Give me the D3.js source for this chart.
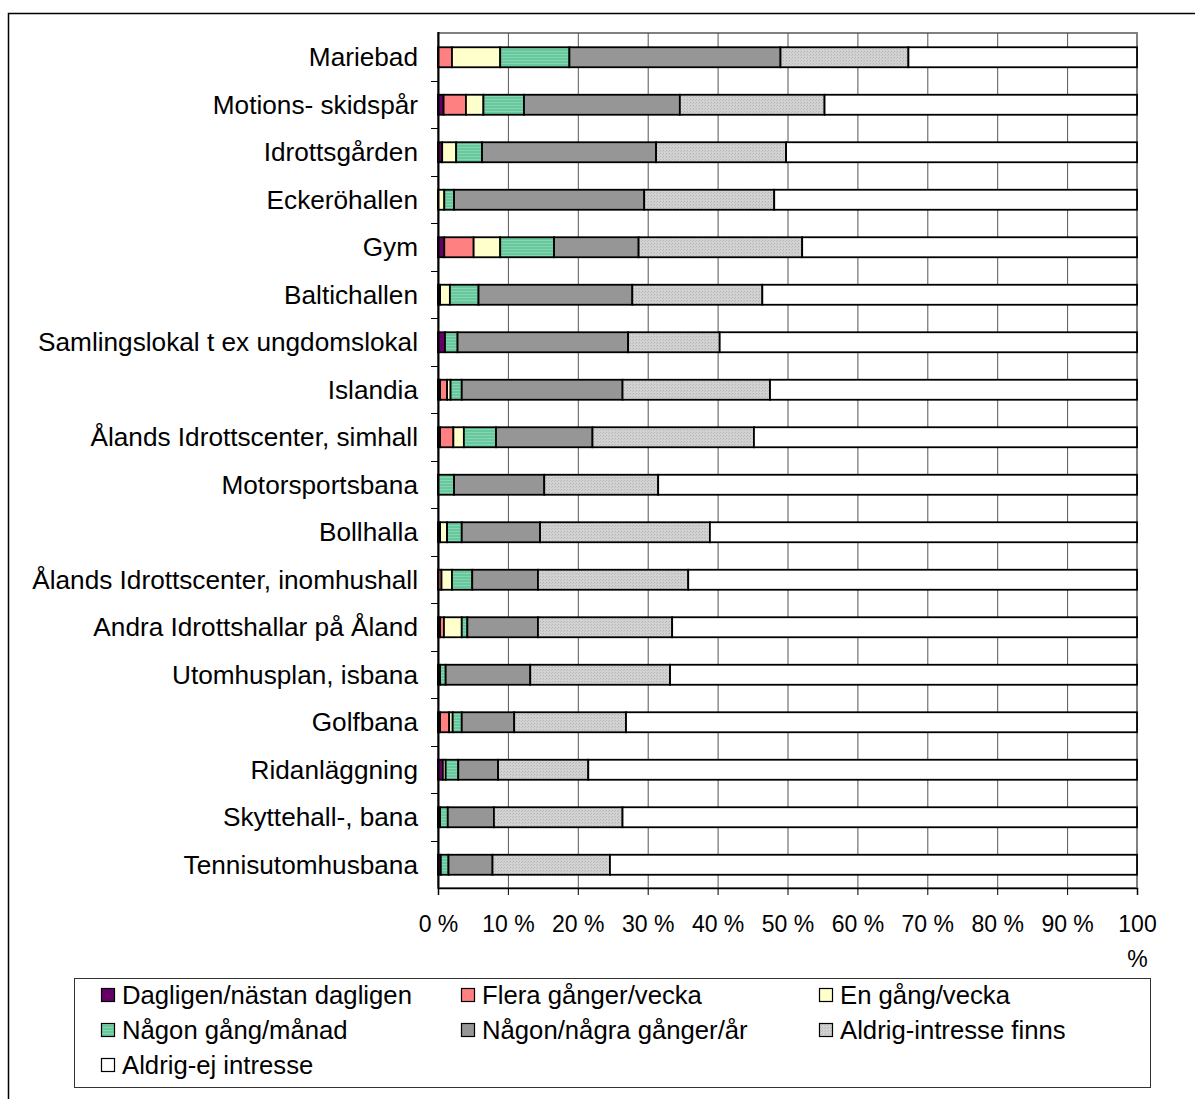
<!DOCTYPE html>
<html>
<head>
<meta charset="utf-8">
<script src="https://cdn.jsdelivr.net/npm/d3@7"></script>
<style>
  body { margin: 0; background: #fff; }
  svg { display: block; }
  text { font-family: "Liberation Sans", Arial, sans-serif; fill: #000; }
</style>
</head>
<body>
<div id="chart"></div>
<script>
// categories, top to bottom
var categories = ["Mariebad", "Motions- skidspår", "Idrottsgården", "Eckeröhallen", "Gym", "Baltichallen",
  "Samlingslokal t ex ungdomslokal", "Islandia", "Ålands Idrottscenter, simhall", "Motorsportsbana", "Bollhalla",
  "Ålands Idrottscenter, inomhushall", "Andra Idrottshallar på Åland", "Utomhusplan, isbana", "Golfbana",
  "Ridanläggning", "Skyttehall-, bana", "Tennisutomhusbana"];

// percentages
var dagligen      = [0,   0.8, 0.6, 0,   0.9, 0.3, 1.0, 0.3, 0.3, 0,    0.3, 0,    0.3,  0.3,  0.3, 0.7, 0.3, 0.4];
var fleraVecka    = [2.0, 3.2, 0,   0,   4.2, 0,   0,   1.0, 1.9, 0,    0,   0.5,  0.55, 0,    1.3, 0,   0,   0];
var enVecka       = [6.9, 2.5, 2.0, 0.9, 3.8, 1.4, 0,   0.5, 1.5, 0,    1.0, 1.5,  2.55, 0,    0.5, 0.4, 0,   0];
var nagonManad    = [9.9, 5.8, 3.7, 1.4, 7.7, 4.1, 1.8, 1.6, 4.6, 2.3,  2.1, 2.9,  0.8,  0.8,  1.3, 1.8, 1.1, 1.1];
var nagonAr       = [30.2, 22.3, 24.9, 27.2, 12.1, 22.0, 24.4, 23.0, 13.8, 12.9, 11.2, 9.4, 10.1, 12.1, 7.5, 5.7, 6.6, 6.3];
var aldrigFinns   = [18.3, 20.7, 18.6, 18.6, 23.4, 18.6, 13.1, 21.1, 23.1, 16.3, 24.3, 21.5, 19.2, 20.0, 16.0, 12.9, 18.4, 16.8];
var aldrigEj      = [32.7, 44.7, 50.2, 51.9, 47.9, 53.6, 59.7, 52.5, 54.8, 68.5, 61.1, 64.2, 66.5, 66.8, 73.1, 78.5, 73.6, 75.4];

var seriesNames = ["Dagligen/nästan dagligen", "Flera gånger/vecka", "En gång/vecka", "Någon gång/månad",
  "Någon/några gånger/år", "Aldrig-intresse finns", "Aldrig-ej intresse"];
var xTicks = [0, 10, 20, 30, 40, 50, 60, 70, 80, 90, 100];

var seriesValues = [dagligen, fleraVecka, enVecka, nagonManad, nagonAr, aldrigFinns, aldrigEj];
var seriesFills = ["#660066", "#ff8080", "#ffffcc", "url(#stripeGreen)", "#969696", "url(#dotGray)", "#ffffff"];

var width = 1195, height = 1099;
var plot = {left: 438, right: 1137, top: 33, bottom: 888};

var svg = d3.select("#chart").append("svg")
  .attr("width", width)
  .attr("height", height);

// patterns for the green and light grey fills
var defs = svg.append("defs");
var pg = defs.append("pattern").attr("id", "stripeGreen")
  .attr("patternUnits", "userSpaceOnUse").attr("width", 4).attr("height", 3);
pg.append("rect").attr("width", 4).attr("height", 3).attr("fill", "#66c89c");
pg.append("rect").attr("width", 4).attr("height", 1).attr("fill", "#86d6b1");

var pd = defs.append("pattern").attr("id", "dotGray")
  .attr("patternUnits", "userSpaceOnUse").attr("width", 3).attr("height", 3);
pd.append("rect").attr("width", 3).attr("height", 3).attr("fill", "#d2d2d2");
pd.append("rect").attr("x", 0).attr("y", 0).attr("width", 1).attr("height", 1).attr("fill", "#b4b4b4");
pd.append("rect").attr("x", 2).attr("y", 1).attr("width", 1).attr("height", 1).attr("fill", "#bdbdbd");

// outer chart frame (only left and top visible)
svg.append("path")
  .attr("d", "M8.5," + (height + 5) + "V13.5H" + (width + 5))
  .attr("fill", "none").attr("stroke", "#000").attr("stroke-width", 1.5);

// table for stacking
var table = categories.map(function(c, i) {
  var row = {cat: c};
  seriesNames.forEach(function(s, j) { row[s] = seriesValues[j][i]; });
  return row;
});
var stacked = d3.stack().keys(seriesNames)(table);

var x = d3.scaleLinear().domain([0, 100]).range([plot.left, plot.right]);
var y = d3.scaleBand().domain(categories).range([plot.top, plot.bottom]).padding(0);
var barH = 20;

// plot area border + grid
svg.append("rect")
  .attr("x", plot.left).attr("y", plot.top)
  .attr("width", plot.right - plot.left).attr("height", plot.bottom - plot.top)
  .attr("fill", "#fff").attr("stroke", "#808080").attr("stroke-width", 2);

svg.append("g")
  .selectAll("line")
  .data(xTicks.slice(1, -1))
  .enter()
  .append("line")
    .attr("x1", function(d) { return x(d) + 0.5; })
    .attr("x2", function(d) { return x(d) + 0.5; })
    .attr("y1", plot.top)
    .attr("y2", plot.bottom)
    .attr("stroke", "#555")
    .attr("stroke-width", 1);

// bars
svg.append("g")
  .selectAll("g")
  .data(stacked)
  .enter()
  .append("g")
    .attr("fill", function(d, i) { return seriesFills[i]; })
  .selectAll("rect")
  .data(function(d) { return d.filter(function(p) { return p[1] - p[0] > 0; }); })
  .enter()
  .append("rect")
    .attr("x", function(d) { return x(d[0]); })
    .attr("y", function(d) { return y(d.data.cat) + y.bandwidth() / 2 - barH / 2 + 0.5; })
    .attr("width", function(d) { return x(d[1]) - x(d[0]); })
    .attr("height", barH)
    .attr("stroke", "#000")
    .attr("stroke-width", 1.8);

// y axis: labels, then ticks on the band boundaries
var yAxis = svg.append("g")
  .attr("transform", "translate(" + plot.left + ",0)")
  .call(d3.axisLeft(y).tickSize(0).tickPadding(20));
yAxis.select(".domain").remove();
yAxis.selectAll("text").style("font-size", "26.2px").attr("dy", "0.36em");

svg.append("g")
  .selectAll("line")
  .data(categories.slice(1))
  .enter()
  .append("line")
    .attr("x1", plot.left - 7)
    .attr("x2", plot.left)
    .attr("y1", function(d) { return Math.round(y(d)) + 0.5; })
    .attr("y2", function(d) { return Math.round(y(d)) + 0.5; })
    .attr("stroke", "#000");

svg.append("line")
  .attr("x1", plot.left + 0.5).attr("x2", plot.left + 0.5)
  .attr("y1", plot.top - 1).attr("y2", plot.bottom)
  .attr("stroke", "#000").attr("stroke-width", 2);

// x axis
var xAxis = svg.append("g")
  .attr("transform", "translate(0," + plot.bottom + ")")
  .call(d3.axisBottom(x).tickValues(xTicks).tickSize(7).tickPadding(21)
    .tickFormat(function(d) { return d + " %"; }));
xAxis.select(".domain").attr("stroke", "#000").attr("stroke-width", 1.5);
xAxis.selectAll(".tick line").attr("stroke", "#000");
xAxis.selectAll("text").style("font-size", "23px");
xAxis.selectAll(".tick text").filter(function(d) { return d === 100; })
  .each(function() {
    var t = d3.select(this);
    t.text(null);
    t.append("tspan").attr("x", 0).text("100");
    t.append("tspan").attr("x", 0).attr("dy", "1.5em").text("%");
  });

// legend
var legendBox = {x: 74, y: 978, w: 1076, h: 109};
svg.append("rect")
  .attr("x", legendBox.x + 0.5).attr("y", legendBox.y + 0.5)
  .attr("width", legendBox.w).attr("height", legendBox.h)
  .attr("fill", "#fff").attr("stroke", "#333").attr("stroke-width", 1);

var legendCols = [101, 461, 819];
var legendRows = [995, 1030, 1065];
var legend = svg.append("g")
  .selectAll("g")
  .data(seriesNames)
  .enter()
  .append("g")
    .attr("transform", function(d, i) {
      return "translate(" + legendCols[i % 3] + "," + legendRows[Math.floor(i / 3)] + ")";
    });
legend.append("rect")
  .attr("x", 0.5).attr("y", -6.5)
  .attr("width", 13).attr("height", 13)
  .attr("fill", function(d, i) { return seriesFills[i]; })
  .attr("stroke", "#000").attr("stroke-width", 1.2);
legend.append("text")
  .attr("x", 21)
  .attr("y", 0)
  .attr("dy", "0.36em")
  .style("font-size", "25.7px")
  .text(function(d) { return d; });
</script>
</body>
</html>
